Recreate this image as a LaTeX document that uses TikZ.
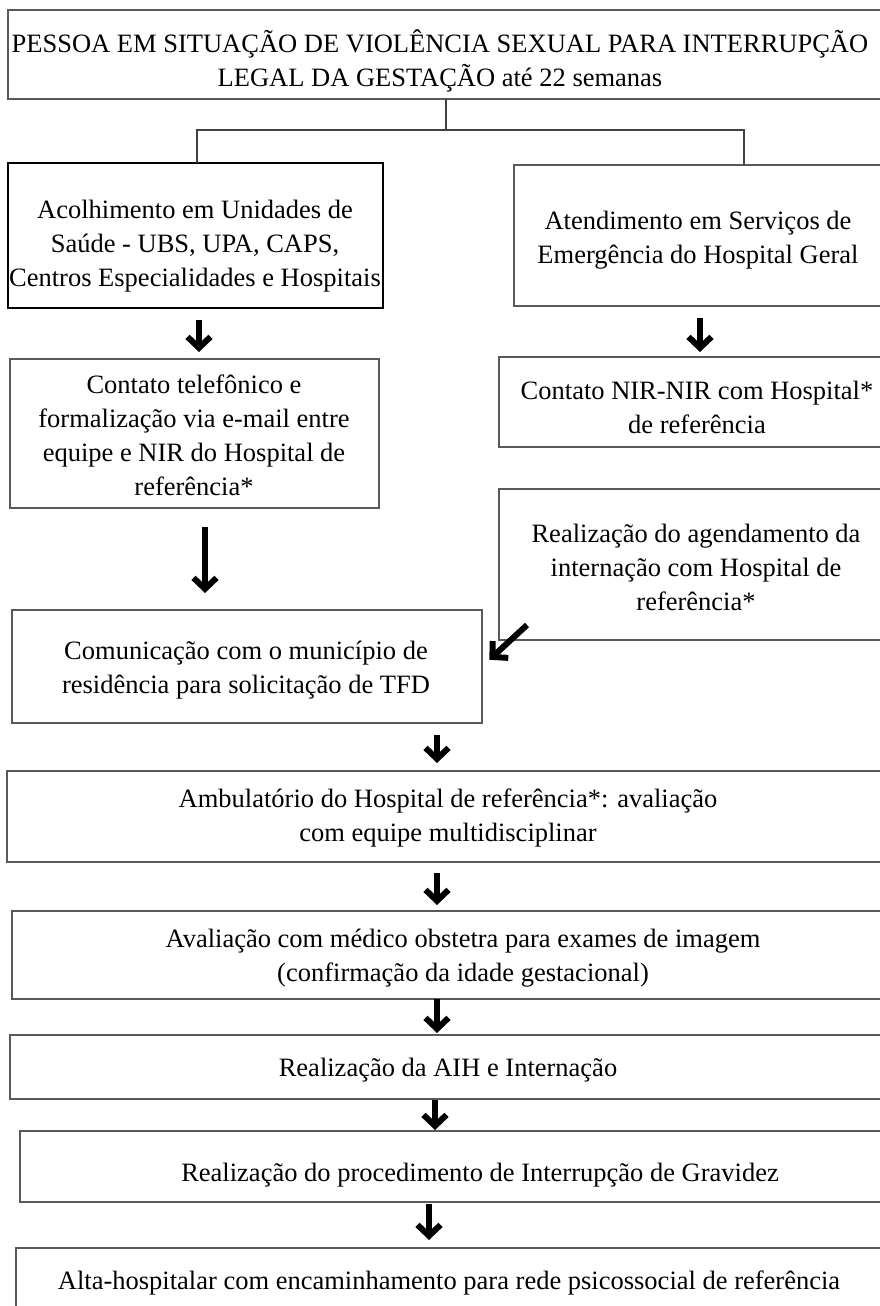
\documentclass[tikz,border=0pt]{standalone}
\usepackage{fontspec}
\setmainfont{Liberation Serif}
\usetikzlibrary{arrows.meta}
\usetikzlibrary{calc}

\tikzset{
  stepbox/.style={draw=black!65, line width=1.6pt, inner sep=0pt, outer sep=0pt},
  steptext/.style={align=center, inner sep=0pt, font=\fontsize{26.5}{34}\selectfont},
  flowarrow/.style={line width=6pt, -{Straight Barb[length=11pt,width=23pt]}},
  branch/.style={line width=1.2pt, draw=black!75},
}

\begin{document}
\begin{tikzpicture}[x=1pt,y=-1pt]
      \useasboundingbox (0,0) rectangle (880,1306);
      \clip (0,0) rectangle (880,1306);
      \fill[white] (0,0) rectangle (880,1306);

      % boxes
      \node[stepbox, minimum width=882pt, minimum height=89pt] (pessoa) at (449,54.5) {};
      \node[stepbox, line width=2pt, draw=black, minimum width=375pt, minimum height=145pt] (acolhimento) at (195.5,235.5) {};
      \node[stepbox, minimum width=376pt, minimum height=141pt] (atendimento) at (702,235.5) {};
      \node[stepbox, minimum width=369pt, minimum height=149pt] (contato) at (194.5,433.5) {};
      \node[stepbox, minimum width=391pt, minimum height=90pt] (nir) at (694.5,402) {};
      \node[stepbox, minimum width=391pt, minimum height=151pt] (agendamento) at (694.5,564.5) {};
      \node[stepbox, minimum width=470pt, minimum height=113pt] (tfd) at (247,666.5) {};
      \node[stepbox, minimum width=883pt, minimum height=91pt] (ambulatorio) at (448.5,816.5) {};
      \node[stepbox, minimum width=878pt, minimum height=88pt] (obstetra) at (451,955) {};
      \node[stepbox, minimum width=880pt, minimum height=64pt] (aih) at (450,1067) {};
      \node[stepbox, minimum width=870pt, minimum height=71pt] (procedimento) at (455,1166.5) {};
      \node[stepbox, minimum width=874pt, minimum height=72pt] (alta) at (453,1284) {};

      % texts
      \node[steptext] (t-pessoa) at (440,61) {PESSOA EM SITUAÇÃO DE VIOLÊNCIA SEXUAL PARA INTERRUPÇÃO\\LEGAL DA GESTAÇÃO até 22 semanas};
      \node[steptext] (t-acolhimento) at (195,246) {Acolhimento em Unidades de\\Saúde - UBS, UPA, CAPS,\\Centros Especialidades e Hospitais};
      \node[steptext] (t-atendimento) at (698,240) {Atendimento em Serviços de\\Emergência do Hospital Geral};
      \node[steptext] (t-contato) at (194,435) {Contato telefônico e\\formalização via e-mail entre\\equipe e NIR do Hospital de\\referência*};
      \node[steptext] (t-nir) at (697,407) {Contato NIR-NIR com Hospital*\\de referência};
      \node[steptext] (t-agendamento) at (696,567) {Realização do agendamento da\\internação com Hospital de\\referência*};
      \node[steptext] (t-tfd) at (246,670) {Comunicação com o município de\\residência para solicitação de TFD};
      \node[steptext] (t-ambulatorio) at (448,818) {Ambulatório do Hospital de referência*: avaliação\\com equipe multidisciplinar};
      \node[steptext] (t-obstetra) at (463,958) {Avaliação com médico obstetra para exames de imagem\\(confirmação da idade gestacional)};
      \node[steptext] (t-aih) at (448,1070) {Realização da AIH e Internação};
      \node[steptext] (t-procedimento) at (480,1175) {Realização do procedimento de Interrupção de Gravidez};
      \node[steptext] (t-alta) at (449,1283) {Alta-hospitalar com encaminhamento para rede psicossocial de referência};

      % branching from the top
      \coordinate (fork) at (446,130);
      \coordinate (lb) at (197,130);
      \coordinate (rb) at (744,130);
      \draw[branch] (pessoa.south -| fork) -- (fork);
      \draw[branch] (acolhimento.north -| lb) -- (lb) -- (rb) -- (atendimento.north -| rb);

      % arrows
      \coordinate (a1) at (199,0);
      \coordinate (a2) at (700,0);
      \coordinate (a3) at (205,0);
      \coordinate (a4) at (437,0);
      \coordinate (a5) at (435,0);
      \coordinate (a6) at (429,0);
      \coordinate (d1) at (527,625);
      \draw[flowarrow, shorten <=12pt, shorten >=7pt] (acolhimento.south -| a1) -- (contato.north -| a1);
      \draw[flowarrow, shorten <=12pt, shorten >=5pt] (atendimento.south -| a2) -- (nir.north -| a2);
      \draw[flowarrow, shorten <=19pt, shorten >=17pt] (contato.south -| a3) -- (tfd.north -| a3);
      \draw[flowarrow, shorten >=10pt] (d1) -- (tfd.east);
      \draw[flowarrow, shorten <=12pt, shorten >=8pt] (tfd.south -| a4) -- (ambulatorio.north -| a4);
      \draw[flowarrow, shorten <=11pt, shorten >=6pt] (ambulatorio.south -| a4) -- (obstetra.north -| a4);
      \draw[flowarrow, shorten >=2pt] (obstetra.south -| a4) -- (aih.north -| a4);
      \draw[flowarrow, shorten <=1pt, shorten >=1pt] (aih.south -| a5) -- (procedimento.north -| a5);
      \draw[flowarrow, shorten <=2pt, shorten >=8pt] (procedimento.south -| a6) -- (alta.north -| a6);
\end{tikzpicture}
\end{document}
